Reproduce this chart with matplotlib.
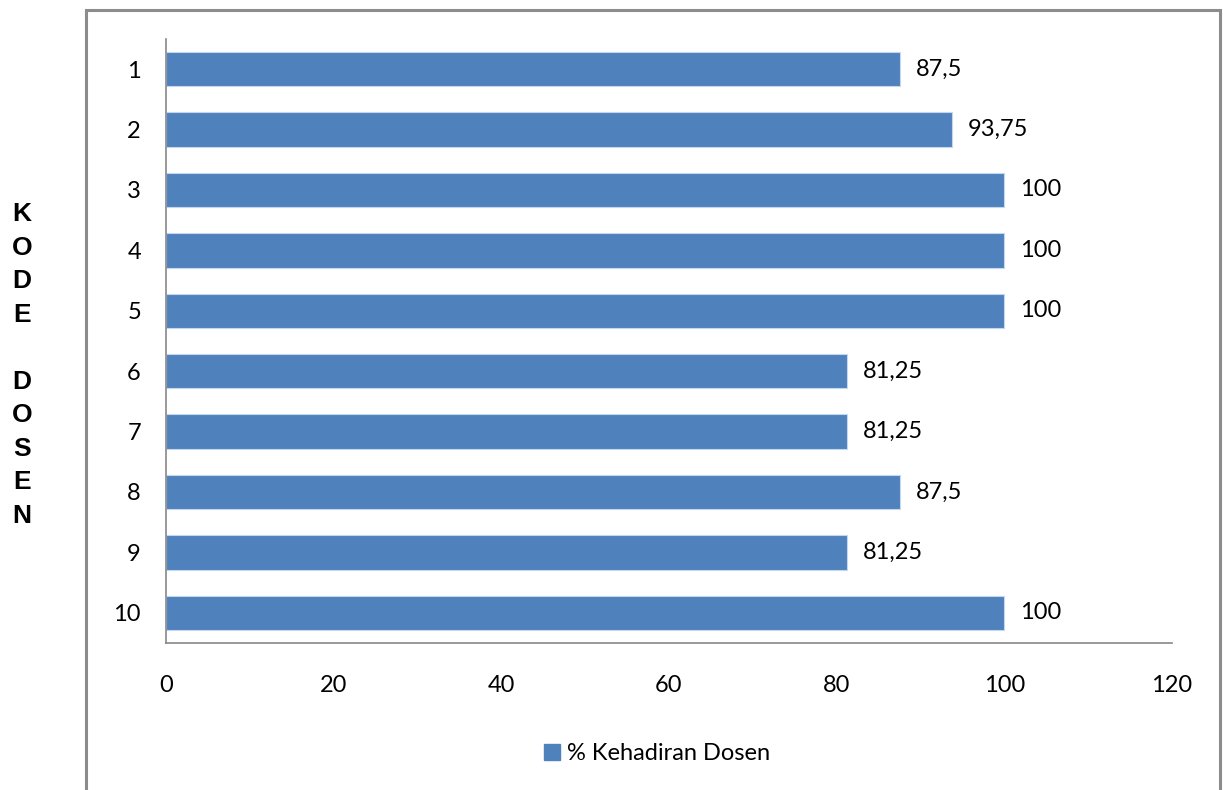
import matplotlib.pyplot as plt
from matplotlib.patches import Rectangle, Patch

# data
kode = ["1", "2", "3", "4", "5", "6", "7", "8", "9", "10"]
kehadiran = [87.5, 93.75, 100, 100, 100, 81.25, 81.25, 87.5, 81.25, 100]
xticks = [0, 20, 40, 60, 80, 100, 120]
series_name = "% Kehadiran Dosen"

bar_col = "#4f81bd"
grey = "#878787"

plt.rcParams["font.family"] = ["Lato", "DejaVu Sans"]

fig = plt.figure(figsize=(12.23, 7.9), dpi=100)
ax = fig.add_axes([166 / 1223, 1 - 643 / 790, 1006 / 1223, 604 / 790])

pos = list(range(len(kode)))
ax.barh(pos, kehadiran, height=0.57, color=bar_col, edgecolor="#c5d7ee", linewidth=0.8)

for y, v in zip(pos, kehadiran):
    lab = ("%g" % v).replace(".", ",")
    ax.annotate(lab, (v, y), xytext=(11.5, 0), textcoords="offset points",
                va="center", ha="left", fontsize=17)

ax.set_xlim(0, 120)
ax.set_ylim(len(kode) - 0.5, -0.5)
ax.set_xticks(xticks)
ax.set_yticks(pos)
ax.set_yticklabels(kode)
ax.tick_params(axis="both", length=0, labelsize=17)
ax.tick_params(axis="x", pad=23)
ax.tick_params(axis="y", pad=18)

for s in ["top", "right"]:
    ax.spines[s].set_visible(False)
for s in ["left", "bottom"]:
    ax.spines[s].set_color(grey)
    ax.spines[s].set_linewidth(1.2)

# chart area border (runs past the bottom of the picture)
fig.patches.append(Rectangle((86 / 1223, -0.1), (1220 - 86) / 1223, 1.1 - 10 / 790,
                             transform=fig.transFigure, fill=False,
                             edgecolor="#8c8c8c", linewidth=2.2))

fig.text(22 / 1223, 1 - 365 / 790, "\n".join("KODE DOSEN"), ha="center", va="center",
         fontsize=19, fontweight="bold", family="Liberation Sans", linespacing=1.5)

fig.legend(handles=[Patch(facecolor=bar_col, edgecolor=bar_col)], labels=[series_name],
           loc="center", bbox_to_anchor=(657 / 1223, 1 - 754 / 790), frameon=False,
           fontsize=17, handlelength=0.65, handleheight=0.65, handletextpad=0.3)

fig.savefig("out.png", dpi=100)
